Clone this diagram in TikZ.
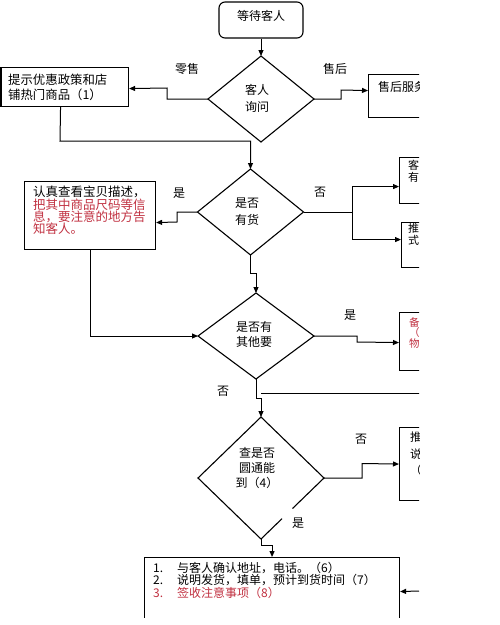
\documentclass[tikz,border=0pt]{standalone}
\usepackage{fontspec}
\setmainfont{Noto Sans CJK SC}
\usetikzlibrary{arrows.meta,calc}
\definecolor{redtxt}{RGB}{192,48,64}
\begin{document}
\begin{tikzpicture}[x=1pt,y=-1pt,
  line/.style={line width=1pt,draw=black},
  arr/.style={line,-{Triangle[length=6pt,width=5pt]}},
  box/.style={draw,line width=1.1pt,inner sep=0pt,anchor=north west},
  dia/.style={line width=1.1pt,line join=miter},
  txt/.style={inner sep=0pt,font=\fontsize{12}{15}\selectfont},
  lbl/.style={inner sep=0pt,font=\fontsize{12}{14}\selectfont}]
\useasboundingbox (0,0) rectangle (500,625);
\begin{scope}
\clip (0,0) rectangle (419,617);

% start box
\node[draw,line width=1.1pt,rounded corners=6pt,minimum width=84pt,minimum height=36pt,inner sep=0pt] (wait) at (261,20) {};
\node[txt] (waitt) at (261,16) {等待客人};

% diamond 1
\coordinate (d1n) at (261,56); \coordinate (d1e) at (314,99);
\coordinate (d1s) at (261,142); \coordinate (d1w) at (208,99);
\draw[dia] (d1n) -- (d1e) -- (d1s) -- (d1w) -- cycle;
\node[txt,align=center,font=\fontsize{12}{16.5}\selectfont] (d1t) at (257,98.5) {客人\\询问};

% diamond 2
\coordinate (d2n) at (250.5,169); \coordinate (d2e) at (303.5,212);
\coordinate (d2s) at (250.5,255); \coordinate (d2w) at (197.5,212);
\draw[dia] (d2n) -- (d2e) -- (d2s) -- (d2w) -- cycle;
\node[txt,align=center,font=\fontsize{12}{17}\selectfont] (d2t) at (247,211.5) {是否\\有货};

% diamond 3
\coordinate (d3n) at (256,293); \coordinate (d3e) at (314,336);
\coordinate (d3s) at (256,379); \coordinate (d3w) at (198,336);
\draw[dia] (d3n) -- (d3e) -- (d3s) -- (d3w) -- cycle;
\node[txt,align=center,font=\fontsize{12}{15}\selectfont] (d3t) at (254,334.5) {是否有\\其他要};

% diamond 4 (with a gap in the lower right edge)
\coordinate (d4n) at (261,417); \coordinate (d4e) at (324,478);
\coordinate (d4s) at (261,539); \coordinate (d4w) at (198,478);
\draw[dia] (d4s) -- (d4w) -- (d4n) -- (d4e) -- ($(d4e)!0.5!(d4s)$);
\draw[dia] ($(d4e)!0.667!(d4s)$) -- (d4s);
\node[txt,align=center,font=\fontsize{12}{15}\selectfont] (d4t) at (257,468) {查是否\\圆通能\\到（4）};

% boxes
\node[box,minimum width=127.5pt,minimum height=39pt] (promo) at (0.5,67) {};
\node[txt,anchor=north west,align=left,font=\fontsize{12.4}{15}\selectfont] (promot) at (8,74) {提示优惠政策和店\\铺热门商品（1）};

\node[box,minimum width=80pt,minimum height=43pt] (after) at (368,74) {};
\node[txt,anchor=west] (aftert) at (378,87) {售后服务};

\node[box,minimum width=131pt,minimum height=68pt] (check) at (24,181) {};
\node[txt,anchor=north west,align=left,font=\fontsize{12.5}{12.3}\selectfont] (checkt) at (33,186)
  {认真查看宝贝描述，\\{\color{redtxt}把其中商品尺码等信}\\{\color{redtxt}息，要注意的地方告}\\{\color{redtxt}知客人。}};

\node[box,minimum width=60pt,minimum height=46pt] (ke) at (399,157) {};
\node[txt,anchor=north west,align=left,font=\fontsize{11}{12}\selectfont] (ket) at (408,159.5) {客\\有};

\node[box,minimum width=60pt,minimum height=45pt] (tui) at (401,222) {};
\node[txt,anchor=north west,align=left,font=\fontsize{11}{11.5}\selectfont] (tuit) at (408,223.5) {推\\式};

\node[box,minimum width=60pt,minimum height=58pt] (bei) at (399,312) {};
\node[txt,anchor=north west,align=left,font=\fontsize{10.5}{10.7}\selectfont,text=redtxt] (beit) at (409,317) {备\\（\\物};

\node[box,minimum width=60pt,minimum height=73pt] (tuishuo) at (399,427) {};
\node[txt,anchor=north west,align=left,font=\fontsize{11.5}{16.5}\selectfont] (tuishuot) at (410,432) {推\\说\\（};

\node[box,minimum width=255pt,minimum height=83pt] (ship) at (144,557) {};
\node[txt,anchor=north west,align=left,font=\fontsize{12}{12.5}\selectfont] (shipt) at (153,562)
  {\makebox[24pt][l]{1.}与客人确认地址，电话。（6）\\
   \makebox[24pt][l]{2.}说明发货，填单，预计到货时间（7）\\
   {\color{redtxt}\makebox[24pt][l]{3.}签收注意事项（8）}};

% connectors
\draw[arr] (wait.south) -- (d1n);
\draw[arr] (d1w) -- (167,99) -- (167,88) -- ([yshift=-1.5pt]promo.east);
\draw[arr] (d1e) -- (341,99) -- (341,90) -- ([yshift=5.5pt]after.west);
\draw[arr] ([xshift=-4.25pt]promo.south) -- (60,141) -- (250.5,141) -- (d2n);
\draw[arr] (d2w) -- (177,212) -- (177,222) -- ([yshift=-7pt]check.east);
\coordinate (j1) at (352,212);
\draw[line] (d2e) -- (j1);
\draw[arr] (j1) |- ([yshift=-6pt]ke.west);
\draw[arr] (j1) |- ([yshift=5.5pt]tui.west);
\draw[arr] (check.south) |- (d3w);
\draw[arr] (d2s) -- (250.5,273) -- (256,273) -- (d3n);
\draw[arr] (d3e) -- (357,336) -- (357,342) -- ([yshift=-1pt]bei.west);
\draw[arr] (d3s) -- (256,398) -- (261,398) -- (d4n);
\coordinate (rin) at (440,393); \coordinate (j2) at (261,393);
\draw[line] (rin) -- (j2);
\draw[arr] (d4e) -- (362,478) -- (362,463.5) -- (tuishuo.west);
\draw[arr] (d4s) -- (261,545) -| (ship.north);
\coordinate (bin) at (419,591);
\draw[arr] (bin) -- ([yshift=7.5pt]ship.east);

% labels
\node[lbl] (l1) at (187,69) {零售};
\node[lbl] (l2) at (335,69) {售后};
\node[lbl] (l3) at (179,193) {是};
\node[lbl] (l4) at (320,192) {否};
\node[lbl] (l5) at (350,315) {是};
\node[lbl] (l6) at (223,391) {否};
\node[lbl] (l7) at (361,439) {否};
\node[lbl] (l8) at (298,523) {是};
\end{scope}
\end{tikzpicture}
\end{document}
